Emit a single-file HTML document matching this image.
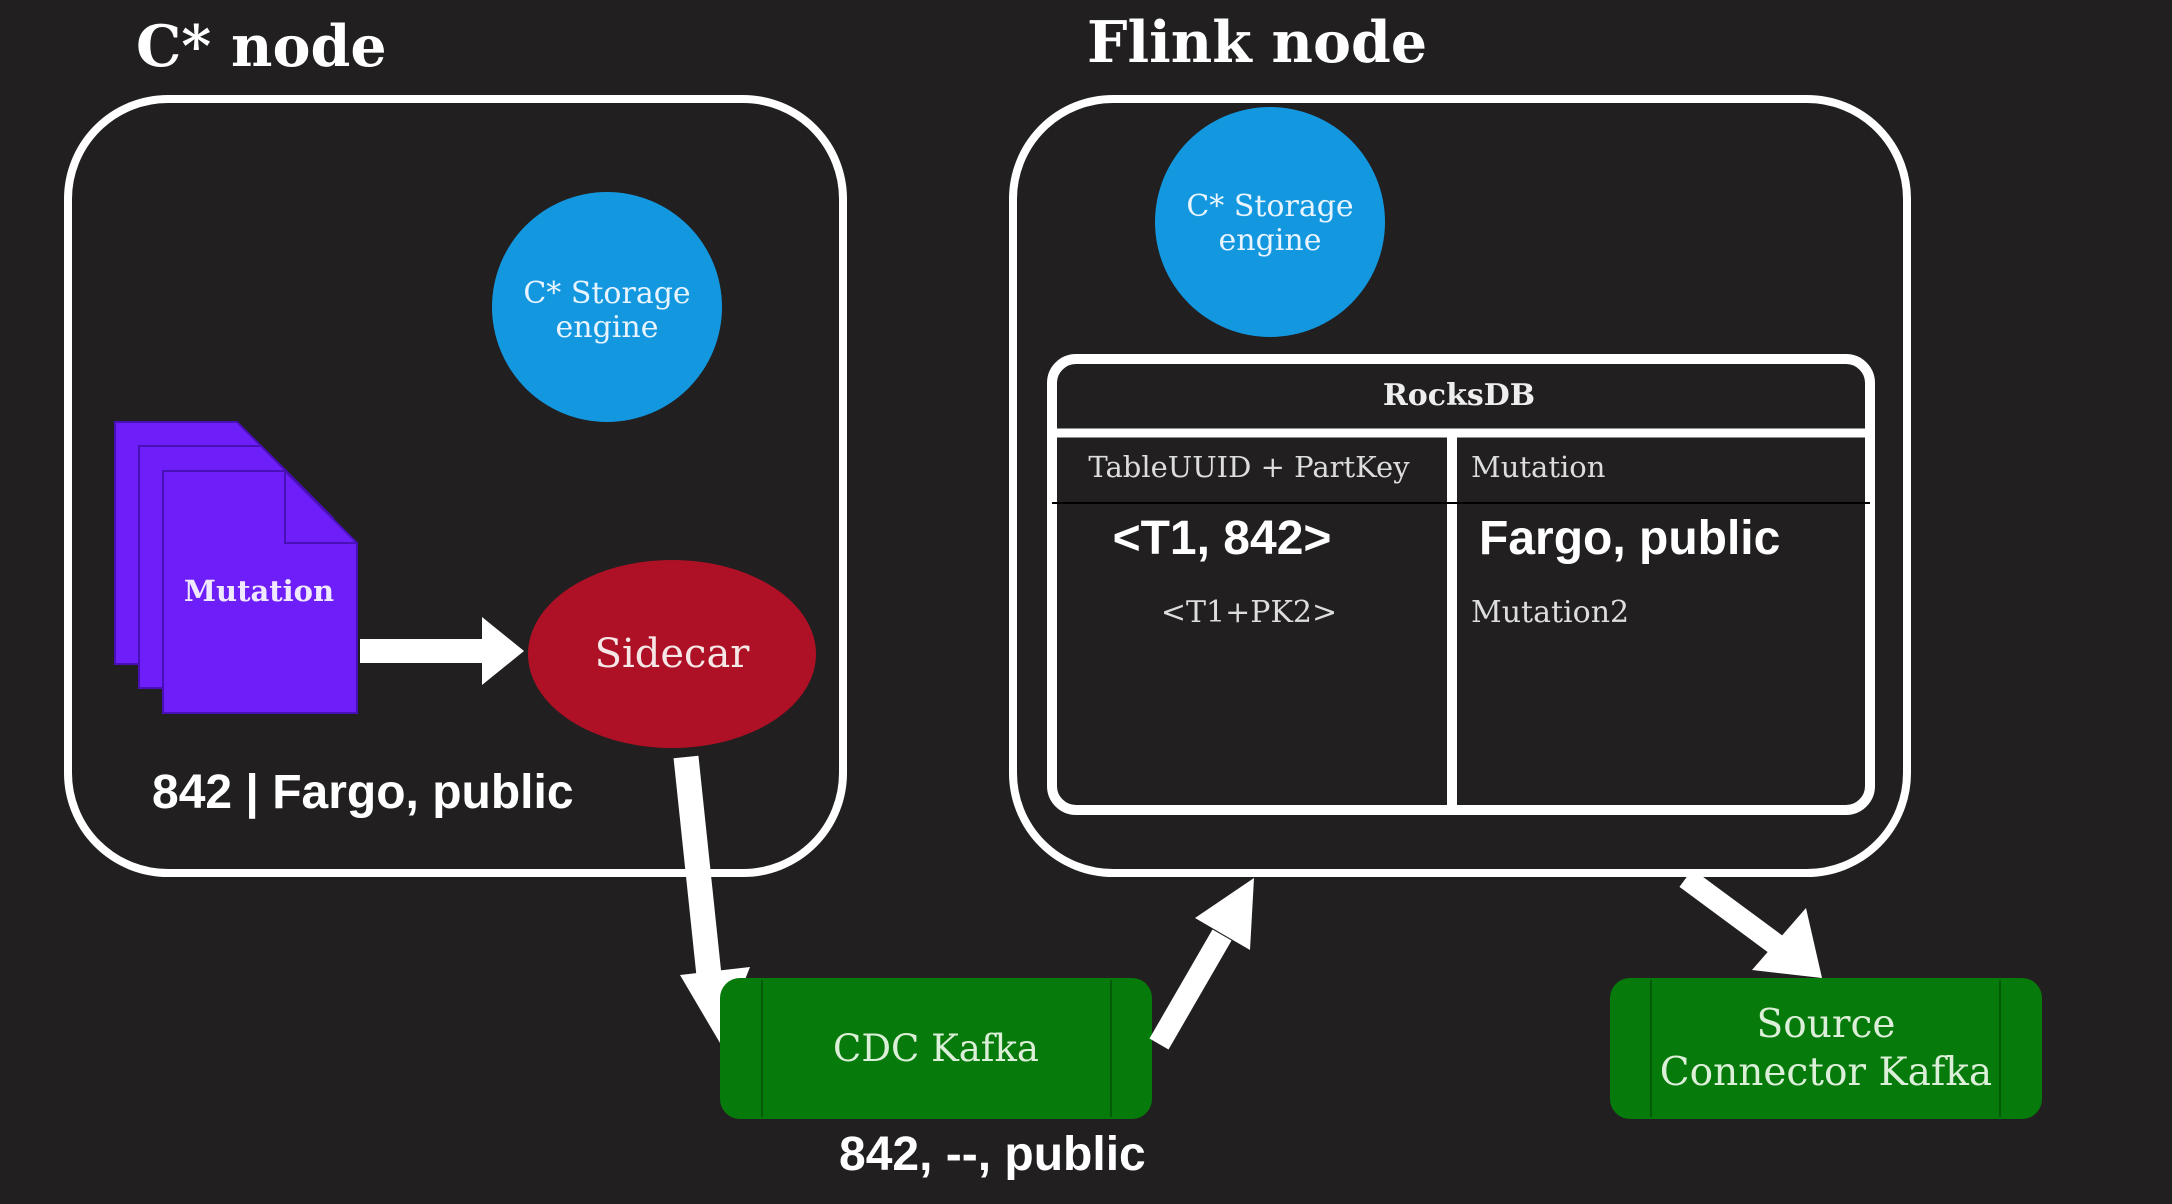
<!DOCTYPE html>
<html><head><meta charset="utf-8"><style>
html,body{margin:0;padding:0;background:#211f20;}
svg{display:block}
.serif{font-family:"DejaVu Serif","Liberation Serif",serif}
.sans{font-family:"Liberation Sans","DejaVu Sans",sans-serif}
</style></head><body>
<svg width="2172" height="1204" viewBox="0 0 2172 1204" xmlns="http://www.w3.org/2000/svg">
<rect width="2172" height="1204" fill="#211f20"/>
<text x="136" y="66" class="serif" font-size="57" font-weight="bold" fill="#fff">C* node</text>
<text x="1087" y="62" class="serif" font-size="57" font-weight="bold" fill="#fff">Flink node</text>

<rect x="68" y="99" width="775" height="774" rx="100" fill="none" stroke="#fff" stroke-width="8"/>
<circle cx="607" cy="307" r="115" fill="#1398e0"/>
<text x="607" y="303" text-anchor="middle" class="serif" font-size="30" fill="#e8f4ff">C* Storage</text>
<text x="607" y="337" text-anchor="middle" class="serif" font-size="30" fill="#e8f4ff">engine</text>

<g fill="#6e1ef8" stroke="#4a10b8" stroke-width="2">
<path d="M115 422 h122 l72 72 v170 h-194 z"/>
<path d="M139 446 h122 l72 72 v170 h-194 z"/>
<path d="M163 471 h122 l72 72 v170 h-194 z"/>
<path d="M285 471 v72 h72" fill="none"/>
</g>
<text x="259" y="601" text-anchor="middle" class="serif" font-size="29" font-weight="bold" fill="#f0e8ff">Mutation</text>

<path d="M360 639 h122 v-22 l42 34 l-42 34 v-22 h-122 z" fill="#fff"/>

<ellipse cx="672" cy="654" rx="144" ry="94" fill="#ae1125"/>
<text x="672" y="667" text-anchor="middle" class="serif" font-size="40" fill="#f6e6e6">Sidecar</text>

<text x="152" y="808" class="sans" font-size="48" font-weight="bold" fill="#fff">842 | Fargo, public</text>

<line x1="686" y1="757" x2="710" y2="985" stroke="#fff" stroke-width="25"/>
<path d="M680 975 l70 -8 l-30 76 z" fill="#fff"/>

<rect x="720" y="978" width="432" height="141" rx="20" fill="#067a0a"/>
<line x1="762" y1="980" x2="762" y2="1117" stroke="#045a07" stroke-width="2"/>
<line x1="1111" y1="980" x2="1111" y2="1117" stroke="#045a07" stroke-width="2"/>
<text x="936" y="1061" text-anchor="middle" class="serif" font-size="37" fill="#dcefd8">CDC Kafka</text>
<text x="839" y="1170" class="sans" font-size="48" font-weight="bold" fill="#fff">842, --, public</text>

<line x1="1159" y1="1044" x2="1222" y2="935" stroke="#fff" stroke-width="22"/>
<path d="M1195 918 l59 -40 l-4 72 z" fill="#fff"/>

<rect x="1013" y="99" width="894" height="774" rx="100" fill="none" stroke="#fff" stroke-width="8"/>
<circle cx="1270" cy="222" r="115" fill="#1398e0"/>
<text x="1270" y="216" text-anchor="middle" class="serif" font-size="30" fill="#e8f4ff">C* Storage</text>
<text x="1270" y="250" text-anchor="middle" class="serif" font-size="30" fill="#e8f4ff">engine</text>

<rect x="1052" y="359" width="818" height="451" rx="24" fill="none" stroke="#fff" stroke-width="10"/>
<line x1="1052" y1="433" x2="1870" y2="433" stroke="#fff" stroke-width="9"/>
<line x1="1452" y1="433" x2="1452" y2="810" stroke="#fff" stroke-width="10"/>
<line x1="1052" y1="503" x2="1870" y2="503" stroke="#000" stroke-width="2"/>
<text x="1459" y="405" text-anchor="middle" class="serif" font-size="30" font-weight="bold" fill="#eee">RocksDB</text>
<text x="1249" y="477" text-anchor="middle" class="serif" font-size="29" fill="#ddd">TableUUID + PartKey</text>
<text x="1471" y="477" class="serif" font-size="29" fill="#ddd">Mutation</text>
<text x="1222" y="554" text-anchor="middle" class="sans" font-size="48" font-weight="bold" fill="#fff">&lt;T1, 842&gt;</text>
<text x="1479" y="554" class="sans" font-size="48" font-weight="bold" fill="#fff">Fargo, public</text>
<text x="1249" y="622" text-anchor="middle" class="serif" font-size="30" fill="#ddd">&lt;T1+PK2&gt;</text>
<text x="1471" y="622" class="serif" font-size="30" fill="#ddd">Mutation2</text>

<line x1="1686" y1="878" x2="1778" y2="946" stroke="#fff" stroke-width="22"/>
<path d="M1752 970 l54 -62 l16 70 z" fill="#fff"/>

<rect x="1610" y="978" width="432" height="141" rx="20" fill="#067a0a"/>
<line x1="1651" y1="980" x2="1651" y2="1117" stroke="#045a07" stroke-width="2"/>
<line x1="2000" y1="980" x2="2000" y2="1117" stroke="#045a07" stroke-width="2"/>
<text x="1826" y="1037" text-anchor="middle" class="serif" font-size="39" fill="#dcefd8">Source</text>
<text x="1826" y="1085" text-anchor="middle" class="serif" font-size="39" fill="#dcefd8">Connector Kafka</text>
</svg>
</body></html>
